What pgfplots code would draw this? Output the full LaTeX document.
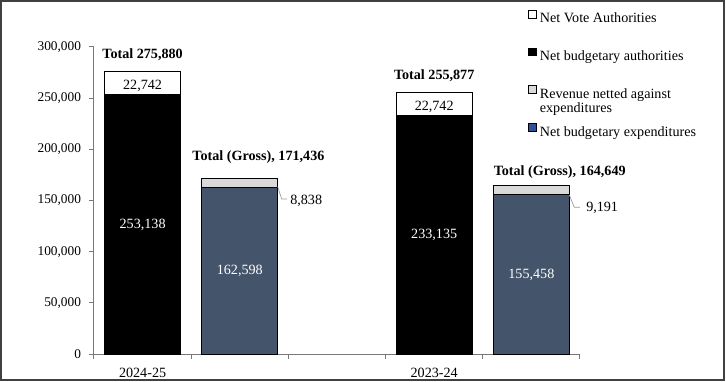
\documentclass[border=0pt]{standalone}
\usepackage{pgfplots}
\pgfplotsset{compat=1.18}
\usepackage{fontspec}
\setmainfont{Liberation Serif}
\definecolor{slate}{RGB}{68,84,106}
\definecolor{lgray}{RGB}{217,217,217}
\definecolor{legblue}{RGB}{47,80,158}
\definecolor{axgray}{RGB}{120,120,120}
\pgfplotsset{sq/.style={legend image code/.code={\draw[##1,draw=black,line width=0.5bp] (0bp,0bp) rectangle (5.6bp,5.8bp);}}}
\newcommand\lf{\fontsize{10.6bp}{12bp}\selectfont}
\begin{document}
\fontsize{10bp}{12bp}\selectfont
\begin{tikzpicture}
\useasboundingbox (-70.5bp,-21bp) rectangle (474bp,265.5bp);
\fill[white] (-70.5bp,-21bp) rectangle (474bp,265.5bp);
\begin{axis}[
  at={(0,0)}, anchor=south west, scale only axis,
  width=364.5bp, height=230.25bp,
  ybar stacked, bar width=57bp,
  xmin=-0.5, xmax=4.5, ymin=0, ymax=300000,
  axis x line=bottom, axis y line=left,
  axis line style={-, draw=axgray, line width=0.75bp},
  xtick={-0.5,0.5,1.5,2.5,3.5,4.5}, xticklabels={},
  extra x ticks={0,3}, extra x tick labels={2024-25,2023-24},
  extra x tick style={major tick length=0pt, tick label style={yshift=-7bp, font=\lf}},
  ytick={0,50000,100000,150000,200000,250000,300000},
  yticklabels={0,{50,000},{100,000},{150,000},{200,000},{250,000},{300,000}},
  scaled y ticks=false,
  yticklabel style={xshift=-2.5bp},
  tick align=outside, major tick length=3.75bp,
  tick style={draw=axgray, line width=0.75bp},
  clip=false,
  legend cell align=left,
  legend style={draw=none, fill=none, at={(0.893,1.122)}, anchor=north west,
    inner sep=0pt, row sep=18.5bp, font=\lf,
    nodes={inner sep=0pt, text height=7.5bp, text depth=0pt},
    /tikz/every odd column/.append style={column sep=2.6bp}},
]
\addplot[fill=black, draw=black, line width=0.75bp, forget plot] coordinates {(0,253138) (1,0) (3,233135) (4,0)};
\addplot[fill=slate, draw=black, line width=0.75bp, forget plot] coordinates {(0,0) (1,162598) (3,0) (4,155458)};
\addplot[fill=white, draw=black, line width=0.75bp, forget plot] coordinates {(0,22742) (1,0) (3,22742) (4,0)};
\addplot[fill=lgray, draw=black, line width=0.75bp, forget plot] coordinates {(0,0) (1,8838) (3,0) (4,9191)};

\addlegendimage{fill=white, sq}
\addlegendentry{Net Vote Authorities}
\addlegendimage{fill=black, sq}
\addlegendentry{Net budgetary authorities}
\addlegendimage{fill=lgray, sq}
\addlegendentry{\parbox[t]{3.8cm}{\fontsize{10.6bp}{10.8bp}\selectfont Revenue netted against\\expenditures}}
\addlegendimage{fill=legblue, sq}
\addlegendentry{Net budgetary expenditures}

\coordinate (t1) at (axis cs:0,275880);
\coordinate (g1) at (axis cs:0.5,171436);
\coordinate (t2) at (axis cs:3,255877);
\coordinate (g2) at (axis cs:3.61,164649);
\coordinate (w1) at (axis cs:0,264509);
\coordinate (b1) at (axis cs:0,126569);
\coordinate (s1) at (axis cs:1,81299);
\coordinate (w2) at (axis cs:3,244506);
\coordinate (b2) at (axis cs:3,116567);
\coordinate (s2) at (axis cs:4,77729);
\coordinate (l1a) at (axis cs:1.39,163500);
\coordinate (l1b) at (axis cs:1.431,151466);
\coordinate (l1c) at (axis cs:1.486,151466);
\coordinate (n1) at (axis cs:1.486,149500);
\coordinate (l2a) at (axis cs:4.39,155375);
\coordinate (l2b) at (axis cs:4.441,143355);
\coordinate (l2c) at (axis cs:4.5,143355);
\coordinate (n2) at (axis cs:4.5,142700);
\end{axis}
\begin{scope}[font=\lf]
\node[font=\lf\bfseries, anchor=base, yshift=9.75bp] at (t1) {Total 275,880};
\node[font=\lf\bfseries, anchor=base west, inner sep=0pt, yshift=13.5bp, xshift=0.75bp] at (g1) {Total (Gross), 171,436};
\node[font=\lf\bfseries, anchor=base, yshift=9.75bp] at (t2) {Total 255,877};
\node[font=\lf\bfseries, anchor=base west, inner sep=0pt, yshift=7.5bp] at (g2) {Total (Gross), 164,649};
\node[yshift=-2bp] at (w1) {22,742};
\node[text=white] at (b1) {253,138};
\node[text=white] at (s1) {162,598};
\node[yshift=-2bp] at (w2) {22,742};
\node[text=white] at (b2) {233,135};
\node[text=white] at (s2) {155,458};
\draw[black!40, line width=0.5bp] (l1a) -- (l1b) -- (l1c);
\node[anchor=west, inner sep=0pt, xshift=2.25bp] at (n1) {8,838};
\draw[black!40, line width=0.5bp] (l2a) -- (l2b) -- (l2c);
\node[anchor=west, inner sep=0pt, xshift=4.5bp] at (n2) {9,191};
\end{scope}
\draw[black!75, line width=1.1bp] (-69.75bp,-19.5bp) rectangle (472.5bp,264.75bp);
\end{tikzpicture}
\end{document}
